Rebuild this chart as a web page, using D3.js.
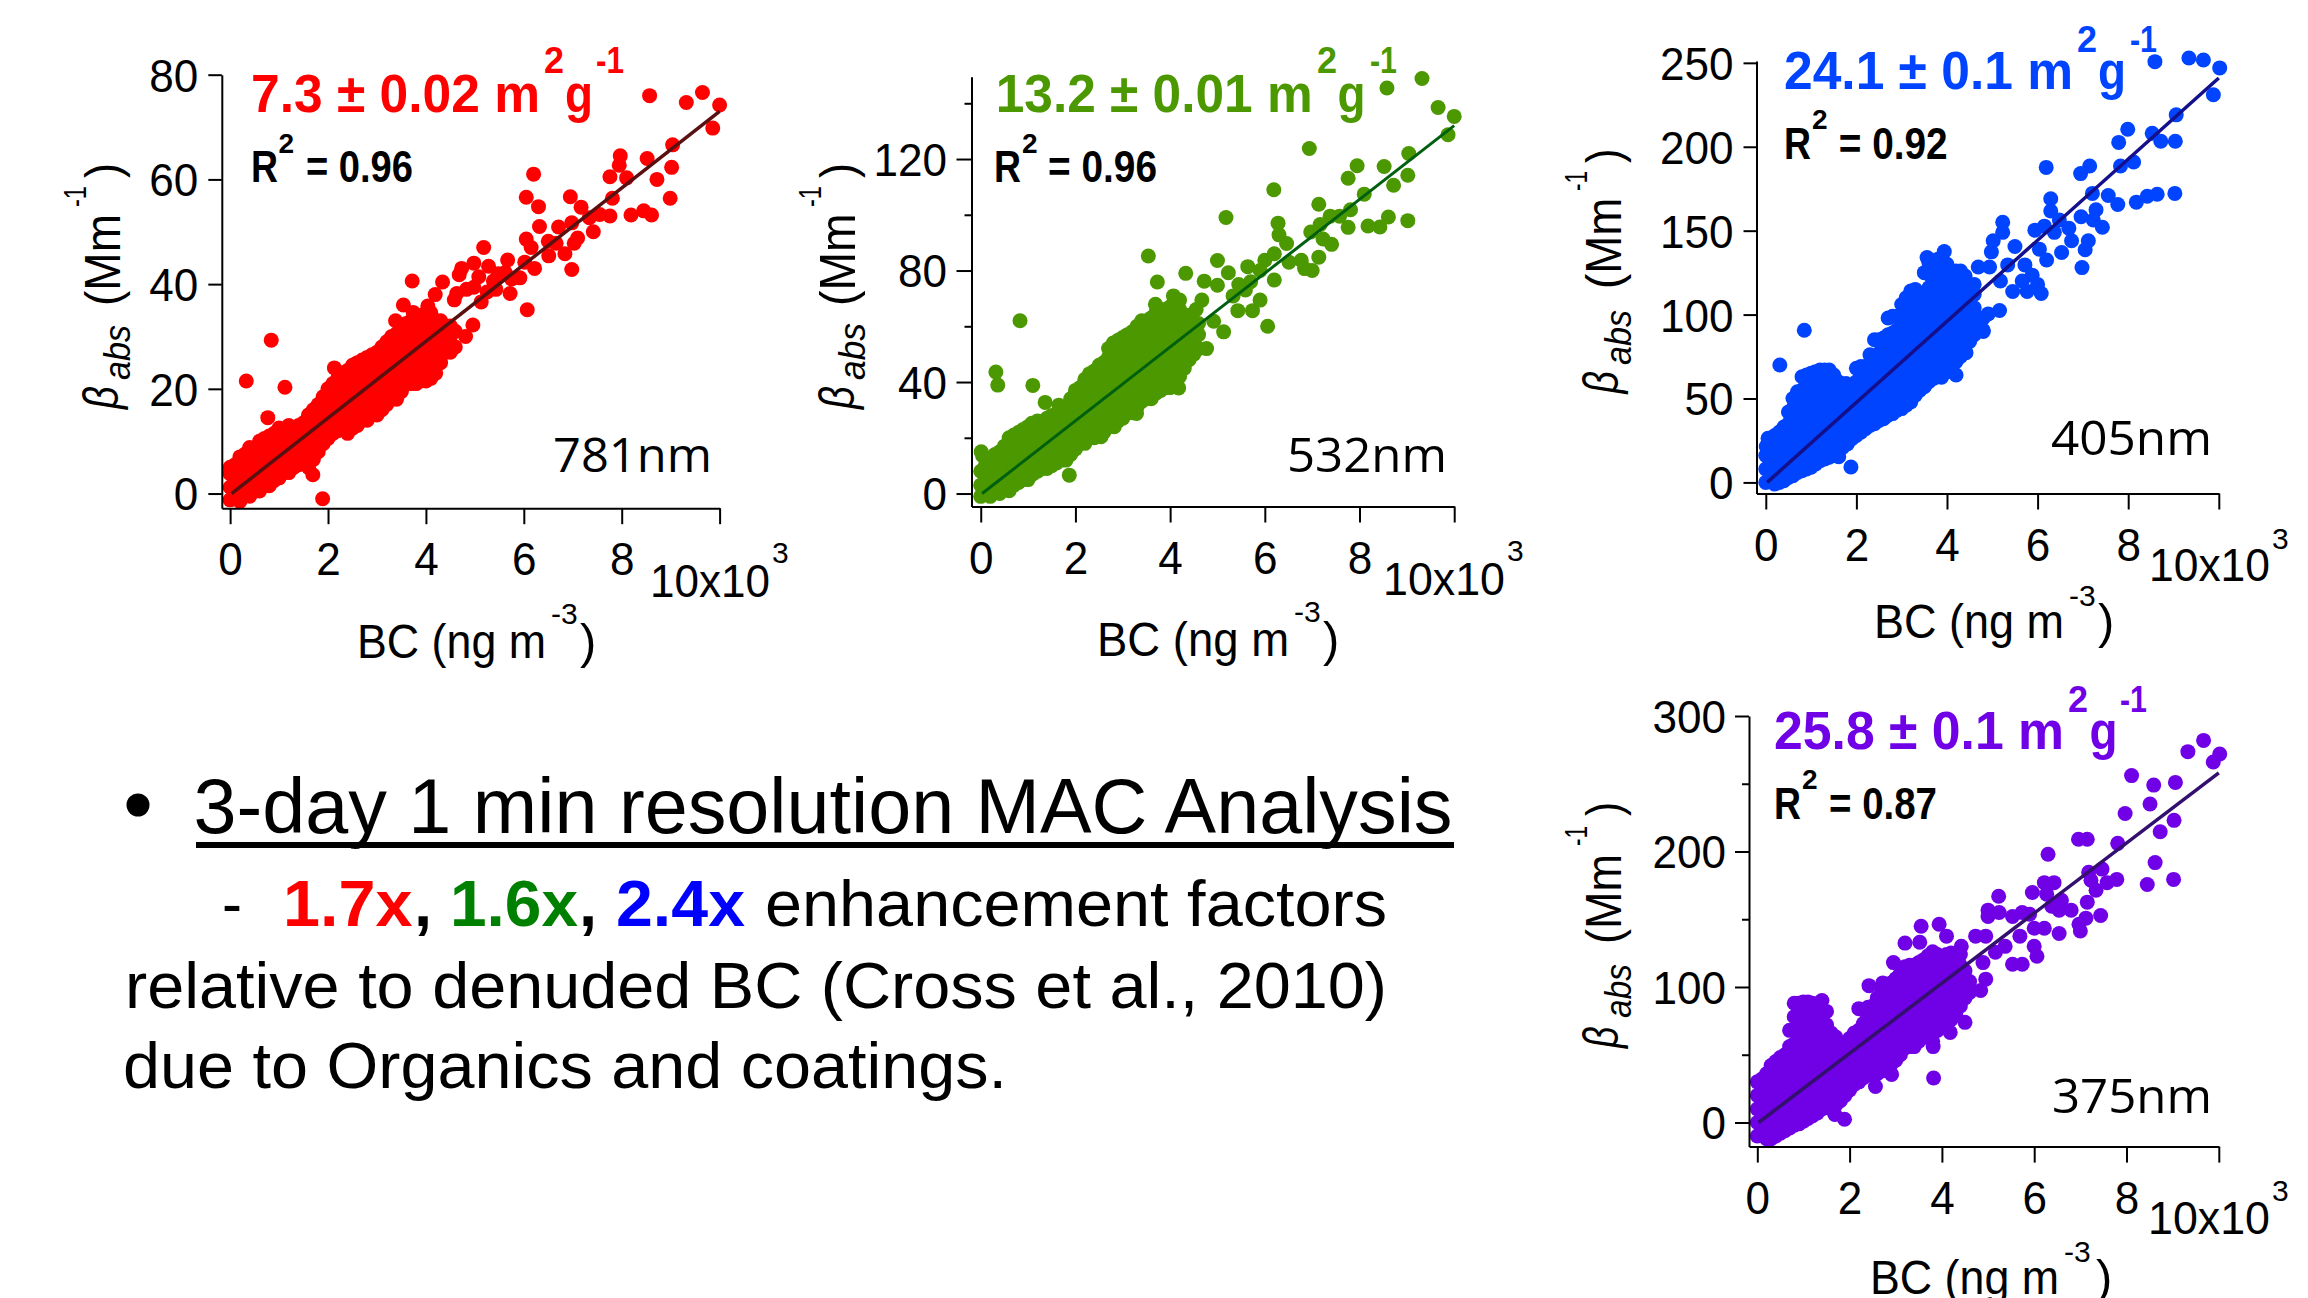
<!DOCTYPE html>
<html>
<head>
<meta charset="utf-8">
<script src="https://cdnjs.cloudflare.com/ajax/libs/d3/7.8.5/d3.min.js"></script>
<style>
html, body { margin: 0; padding: 0; background: #fff; }
svg { display: block; }
text { font-family: "Liberation Sans", Arial, sans-serif; fill: #000; }
</style>
</head>
<body>
<div id="chart"></div>
<script>
// Dense part of each cloud: one row per BC value, [x, y, y, y...]
var dense781 = [
  [0.0,-1.2,1.2,3.8,5],[0.1,0,2.5,5.5],[0.2,-1.5,1,3.5,6,7],[0.4,-0.5,2,4.5,7,8.8],[0.6,0.5,3,5.5,8,10],
  [0.8,1.5,4,6.5,9,11],[1.0,3,5.5,8,10.5,12.5],[1.2,4,6.5,9,11.5,13],[1.4,5.5,8,10.5,13],[1.6,5,7.5,10,12.5,15],
  [1.8,8,10.5,13,15.5,17],[2.0,10.5,13,15.5,18,20],[2.2,12,14.5,17,19.5,22],[2.4,11.5,14,16.5,19,21.5,23.5],
  [2.6,13,15.5,18,20.5,23,25],[2.8,14,16.5,19,21.5,24,26],[3.0,15,17.5,20,22.5,25,27],[3.2,17,19.5,22,24.5,27,29],
  [3.4,18,20.5,23,25.5,28,30.5],[3.6,21,23.5,26,28.5,31,32.5],[3.8,21,23.5,26,28.5,31,33],[4.0,21.5,24,26.5,29,31.5,34.5],
  [4.2,23,25.5,28,30.5,33],[4.4,27,29.5,32],[4.6,28,31],
  [0.3,0,2.5,5,7.5],[0.5,1,3.5,6,8.5],[0.7,1.5,4,6.5,9,10.5],[0.9,2.5,5,7.5,10,11.5],[1.1,4,6.5,9,11.5],[1.3,5,7.5,10,12.5],
  [1.5,6,8.5,11,13.5],[1.7,6.5,9,11.5,14,16],[1.9,9.5,12,14.5,17,18.5],[2.1,11.5,14,16.5,19,21],[2.3,13,15.5,18,20.5,23],
  [2.5,12.5,15,17.5,20,22.5,24.5],[2.7,14,16.5,19,21.5,24,25.5],[2.9,15,17.5,20,22.5,25,26.5],[3.1,16,18.5,21,23.5,26,28],
  [3.3,18,20.5,23,25.5,28,30],[3.5,19.5,22,24.5,27,29.5,32],[3.7,21,23.5,26,28.5,31,33],[3.9,21.5,24,26.5,29,31.5,34],
  [4.1,22,24.5,27,29.5,32,34.5],[4.3,25,27.5,30,33],[4.5,27,30,32]
];
var dense532 = [
  [0.0,-1,3,8],[0.1,1,6,10],[0.2,-1,4,9,12],[0.4,0,5,10,15],[0.6,1,6,11,16,20],[0.8,4,9,14,19,22],[1.0,5,10,15,20,24],
  [1.2,8,13,18,23,26],[1.4,9,14,19,24,27],[1.6,11,16,21,26,28],[1.8,12,17,22,27,31],[2.0,16,21,26,31,37],
  [2.2,18,23,28,33,38,41],[2.4,20,25,30,35,40,44],[2.6,22,27,32,37,42,47],[2.8,25,30,35,40,45,50,54],
  [3.0,27,32,37,42,47,52,56],[3.2,29,34,39,44,49,54,58],[3.4,33,38,43,48,53,58,62],[3.6,34,39,44,49,54,59,63],
  [3.8,37,42,47,52,57,62,66],[4.0,38,43,48,53,58,63,67],[4.2,42,47,52,57,62,66],[4.4,48,53,58,64],[4.6,52,57,61],
  [0.3,1,6,11,14],[0.5,2,7,12,17],[0.7,3,8,13,18,21],[0.9,5,10,15,20,23],[1.1,7,12,17,22,25],[1.3,9,14,19,24],[1.5,10,15,20,25,28],
  [1.7,12,17,22,27,29],[1.9,14,19,24,29,34],[2.1,18,23,28,33,38],[2.3,20,25,30,35,40,43],[2.5,21,26,31,36,41,46],
  [2.7,24,29,34,39,44,49,52],[2.9,26,31,36,41,46,51,55],[3.1,29,34,39,44,49,54,57],[3.3,31,36,41,46,51,56,60],
  [3.5,34,39,44,49,54,59,62],[3.7,36,41,46,51,56,61,65],[3.9,38,43,48,53,58,63,66],[4.1,41,46,51,56,61,66],[4.3,45,50,55,60,64],[4.5,50,55,60]
];
var dense405 = [
  [0.0,0,8,16],[0.1,3,11,19],[0.2,-1,7,15,23,28],[0.4,1,9,17,25,33],[0.6,4,12,20,28,36,44,50],[0.8,7,15,23,31,39,47,55,63],
  [1.0,9,17,25,33,41,49,57,65],[1.2,13,21,29,37,45,53,61,67],[1.4,15,23,31,39,47,55,63,67],[1.6,18,26,34,42,50,60],
  [1.8,23,31,39,47,55],[2.0,28,36,44,52,60,68],[2.2,32,40,48,56,64,69],[2.4,35,43,51,59,67,75,85],[2.6,38,46,54,62,70,78,86],
  [2.8,41,49,57,65,73,81,89,99],[3.0,44,52,60,68,76,84,92,100,106],[3.2,48,56,64,72,80,88,96,104,114],
  [3.4,55,63,71,79,87,95,103,111],[3.6,60,68,76,84,92,100,108,116,124,131],[3.8,63,71,79,87,95,103,111,119,127,133],
  [4.0,66,74,82,90,98,106,114,122,130],[4.2,72,80,88,96,104,112,120,126],[4.4,78,86,94,102,110,118,123],[4.6,88,96,104,112],[4.8,90,98],
  [0.3,0,8,16,24,30],[0.5,3,11,19,27,35,42],[0.7,6,14,22,30,38,46,54],[0.9,8,16,24,32,40,48,56,64],[1.1,11,19,27,35,43,51,59,66],
  [1.3,14,22,30,38,46,54,62,67],[1.5,16,24,32,40,48,56,64],[1.7,21,29,37,45,53,58],[1.9,26,34,42,50,58],[2.1,30,38,46,54,62,69],
  [2.3,34,42,50,58,66,76],[2.5,37,45,53,61,69,77,85],[2.7,40,48,56,64,72,80,88,98],[2.9,43,51,59,67,75,83,91,99],
  [3.1,46,54,62,70,78,86,94,102,110],[3.3,52,60,68,76,84,92,100,108,115],[3.5,57,65,73,81,89,97,105,113,125],
  [3.7,62,70,78,86,94,102,110,118,126,132],[3.9,65,73,81,89,97,105,113,121,129],[4.1,69,77,85,93,101,109,117,125],
  [4.3,75,83,91,99,107,115,123],[4.5,84,92,100,108,116]
];
var dense375 = [
  [0.0,-10,0,10,20,30],[0.1,-5,5,15,25,32],[0.2,-12,-2,8,18,28,36],[0.4,-10,0,10,20,30,40,45],[0.6,-6,4,14,24,34,44,50],
  [0.8,-2,8,18,28,38,48,58,68,78,88],[1.0,1,11,21,31,41,51,61,71,81,89],[1.2,5,15,25,35,45,55,65,75,85,88],
  [1.4,10,20,30,40,50,60,70,80,90],[1.6,10,20,30,40,50,60,66],[1.8,16,26,36,46,56],[2.0,24,34,44,54,62],[2.2,30,40,50,60,68,84],
  [2.4,35,45,55,65,75,85],[2.6,36,46,56,66,76,86,92],[2.8,40,50,60,70,80,90,100],[3.0,46,56,66,76,86,96,106],
  [3.2,55,65,75,85,95,105,115],[3.4,56,66,76,86,96,106,116],[3.6,65,75,85,95,105,115,120],[3.8,60,70,80,90,100,110,120,126],
  [4.0,72,82,92,102,112,122],[4.2,76,86,96,106,116,125],[4.4,86,96,106,116,124],[4.6,96,104],
  [0.3,-12,-2,8,18,28,38,42],[0.5,-8,2,12,22,32,42,48],[0.7,-4,6,16,26,36,46,56,68],[0.9,-1,9,19,29,39,49,59,69,79,88],
  [1.1,3,13,23,33,43,53,63,73,83,89],[1.3,7,17,27,37,47,57,67,77,87],[1.5,12,22,32,42,52,62,72,82],[1.7,13,23,33,43,53,63],
  [1.9,20,30,40,50,58],[2.1,28,38,48,58,66],[2.3,33,43,53,63,73,83],[2.5,36,46,56,66,76,86],[2.7,38,48,58,68,78,88,98],
  [2.9,43,53,63,73,83,93,103],[3.1,50,60,70,80,90,100,110],[3.3,56,66,76,86,96,106,116],[3.5,60,70,80,90,100,110,118],
  [3.7,63,73,83,93,103,113,123],[3.9,68,78,88,98,108,118,124],[4.1,74,84,94,104,114,124],[4.3,80,90,100,110,120],[4.5,92,102,112]
];

// Loose points, [x, y]
var sparse781 = [
  [8.57,76],[9.32,74.7],[9.65,76.6],[10,74.2],[9.86,69.8],[9.04,66.6],[9.02,62.3],[8.72,60],[8.99,56.4],[8.52,64],[7.97,64.5],
  [7.95,62.7],[8.1,60.3],[7.76,60.5],[7.81,56.4],[6.2,61],[6.05,56.6],[6.3,54.8],[6.95,56.7],[7.17,54.7],[8.45,54],[8.19,53.2],
  [8.61,53.2],[7.76,53],[7.55,53.3],[7.34,52.7],[7.42,50],[7.1,48.8],[7.03,47.8],[6.84,45.8],[6.98,42.8],[6.98,51.7],[6.71,50.9],
  [6.32,51],[6.05,48.6],[6.15,47],[6.5,48.2],[6.51,45.4],[6.66,47.8],[6.22,43],[5.92,41.2],[6.07,35.1],[6.02,44.2],[5.67,44.6],
  [5.18,47],[5.62,42.2],[5.72,38.2],[5.43,39],[5.13,36.6],[4.96,32.2],[4.81,30],[3.72,40.6],[4.34,40.4],[4.19,38],[3.54,36],
  [3.38,33],[3.74,34.6],[4.04,35.8],[0.84,29.3],[0.33,21.5],[1.12,20.3],[0.77,14.5],[2.13,24],[1.89,-1],[1.69,3.6],[4.73,43],
  [4.98,44],[5.28,43.4],[5.48,42],[4.68,41.8],[4.63,38.2],[4.83,39],[4.98,39.4],[5.08,41.4],[5.38,40.6],[4.58,37],[5.75,41],[5.25,38.5]
];
var sparse532 = [
  [9.32,148.9],[8.58,145.5],[9.66,138.5],[10,135.3],[9.87,128.7],[6.94,123.8],[9.04,122],[9.02,114.2],[8.52,117.3],[7.95,117.6],
  [7.76,113.1],[8.72,110.6],[8.1,107.4],[6.19,109],[7.14,103.8],[7.81,101.8],[5.18,99],[9.02,97.9],[8.61,99.2],[8.43,95.6],[8.18,96],
  [7.76,95.5],[7.58,99.5],[7.38,99.5],[7.17,96.5],[6.28,97],[6.97,93.8],[7.23,91.3],[7.41,89.4],[6.3,92.8],[6.46,89.7],[7.14,84.8],
  [6.51,83],[6.77,83.7],[7,80],[6.84,80.7],[6,83.7],[6.2,86],[3.54,85.2],[5,83.6],[4.33,79],[3.73,75.9],[4.72,76.2],[5,74.7],[5.23,79.2],
  [5.64,81.4],[6.2,76.6],[4.07,70.9],[4.2,69.4],[3.69,67.9],[4.67,69.4],[1.87,6.6],[6.06,60],[5.43,65.6],[5.74,65.6],[5.9,69.4],[5.59,73],
  [5.33,70.9],[5.13,58],[4.92,61.8],[4.77,52],[0.83,62],[0.32,43.6],[0.36,38.9],[1.1,38.8],[1.36,32.7],[1.65,31.7],[0.04,13.6],[0.01,15],
  [4.18,37.9],[3.29,28.7],[2.54,20.4],[2.82,24],[1.08,25.2],[5.45,75],[5.7,76],[5.9,80],[4.55,66]
];
var sparse405 = [
  [8.59,250.7],[9.34,252.9],[9.66,251.7],[10.02,247],[9.88,231],[9.06,219],[9.04,203.3],[8.72,203.3],[8.53,208],[7.99,210.4],[7.79,202.6],
  [8.12,190.9],[7.83,188.5],[6.19,187.7],[7.15,188.5],[6.95,184],[9.03,172.2],[8.64,171.7],[8.42,170.5],[8.18,167],[7.77,165.6],[7.56,171],
  [7.21,172.2],[6.29,169],[6.29,161.7],[7.29,162.5],[6.96,158.3],[7.23,156.4],[7.43,152],[5.23,155],[5.23,149],[5.02,144],[4.98,137.4],
  [5.5,140.6],[5.94,150.3],[6.15,152.7],[6.48,156.4],[6.37,149],[6.69,151.5],[6.75,144],[6.53,137],[7.12,144],[7.05,138.6],[6.98,128],
  [6.04,139],[6.2,132.5],[6.08,112.6],[3.94,137.6],[3.56,134],[4.69,128.4],[4.94,128.4],[5.34,129.6],[5.72,129.6],[5.88,123.5],[5.18,120],
  [5.45,113.8],[5.77,113.8],[5.66,120],[6,118],[5.16,102.4],[4.91,100.4],[4.8,90.7],[4.53,95.6],[4.42,77.3],[4.2,64],[3.88,62.7],[0.85,90.7],
  [0.31,70],[0.05,26.3],[0.01,21.4],[1.88,9.2],[1.61,15.3],[1.77,59],[4.6,118],[4.3,126]
];
var sparse375 = [
  [9.67,282],[9.33,273.7],[10.02,272],[9.88,266],[8.11,256],[9.06,251],[8.59,249],[8.51,235],[7.97,228],[9.03,223],[8.73,214.6],[7.81,206],
  [6.96,209],[7.15,209],[6.3,198],[8.62,191.8],[8.45,175.6],[9.02,179.4],[7.47,187],[7.18,184.7],[7.23,178.8],[7.79,179.4],[7.58,177],[7.34,171.4],
  [7.15,162.6],[6.22,177],[6.43,177],[5.96,169.7],[6.27,168.5],[5.23,167],[6.59,164],[6.8,156.7],[6.54,156.7],[6.38,159.6],[5,156.7],[5,152],
  [5.24,155],[5.53,152],[5.74,155],[5.9,153.7],[7.44,152.8],[7.12,150.8],[6.97,146.3],[7,141.3],[6.54,139.5],[6.22,143.4],[6,143.4],[3.94,146.3],
  [3.55,144.8],[3.52,133],[3.2,132.4],[4.73,137.5],[4.95,137.5],[4.42,130],[4.1,137.5],[5.16,125.6],[5.53,116.8],[5.74,116.8],[6.06,122.7],
  [6,130],[5.69,137.5],[5.37,130],[4.89,118],[4.95,105.8],[4.84,97.5],[4.63,97.5],[2.42,101],[4.5,73.9],[4.18,66.5],[3.81,56],[3.82,32.8],
  [2.95,118],[2.72,103],[2.91,35.5],[2.56,26.6],[1.89,2.4],[1.68,5.9],[1.13,4.4],[0.81,-1.5]
];

// Fit line ends, [x, y]
var fit781 = [[0.03,0],[10,73]];
var fit532 = [[0.03,0],[10,132]];
var fit405 = [[0.03,0],[10,241]];
var fit375 = [[0.03,0],[10,258]];

var xTicks = [0, 2, 4, 6, 8, 10];
var xTickLabels = ["0", "2", "4", "6", "8", ""];
var yTicks781 = [0, 20, 40, 60, 80];
var yTicks532 = [0, 40, 80, 120];
var yMinor532 = [20, 60, 100, 140];
var yTicks405 = [0, 50, 100, 150, 200, 250];
var yTicks375 = [0, 100, 200, 300];
var yMinor375 = [50, 150, 250];

var titles = ["7.3 ± 0.02 m", "13.2 ± 0.01 m", "24.1 ± 0.1 m", "25.8 ± 0.1 m"];
var rSquared = ["= 0.96", "= 0.96", "= 0.92", "= 0.87"];
var wavelengths = ["781nm", "532nm", "405nm", "375nm"];

var bulletTitle = "3-day 1 min resolution MAC Analysis";
var factorTexts = ["1.7x", "1.6x", "2.4x"];
var bodyLine2 = "enhancement factors";
var bodyLine3 = "relative to denuded BC (Cross et al., 2010)";
var bodyLine4 = "due to Organics and coatings.";

var w = 2308;
var h = 1298;

var svg = d3.select("#chart")
  .append("svg")
  .attr("width", w)
  .attr("height", h);

// text with a forced width, the picture is squeezed a bit so natural widths dont fit
function put(x, y, str, size, opts) {
  opts = opts || {};
  var t = svg.append("text")
    .attr("x", x)
    .attr("y", y)
    .attr("font-size", size)
    .attr("font-weight", opts.bold ? "bold" : null)
    .attr("font-style", opts.italic ? "italic" : null)
    .style("font-family", opts.family || null)
    .style("fill", opts.fill || null)
    .text(str);
  if (opts.len) t.attr("textLength", opts.len).attr("lengthAdjust", "spacingAndGlyphs");
  return t;
}

// y label piece running upward: starts at yBottom, ends at yTop
function putUp(xBase, yBottom, yTop, str, size, opts) {
  opts = opts || {};
  svg.append("text")
    .attr("transform", "translate(" + xBase + "," + yBottom + ") rotate(-90)")
    .attr("font-size", size)
    .attr("font-style", opts.italic ? "italic" : null)
    .attr("textLength", yBottom - yTop)
    .attr("lengthAdjust", "spacingAndGlyphs")
    .text(str);
}

var panels = [
  { dense: dense781, sparse: sparse781, fit: fit781, color: "#ff0000", lineColor: "#5a1010", yTicks: yTicks781, yMinor: [],
    xDom: [-0.17, 10], yDom: [-2.8, 80], xRange: [221.8, 719.6], yRange: [508.2, 74.7], lw: 3.5, tickY: 13.5, pad: 10,
    title: [251, 289, 112], g: [565, 28], s2: [544, 72.6], s1: [596, 28, 72.6], r: [251, 182], r2: [278.5, 152.6], eq: [306, 107],
    wl: [553, 159, 472.4], mult: [650, 120, 596.6], s3: [772, 563], xl: [357, 189, 657.6], xe: [551, 624], xp: 580,
    yl: { beta: [117.5, 409, 386], abs: [129.7, 380, 325], mm: [120, 306, 214], e: [86, 207, 186], p: [120, 178, 163] } },
  { dense: dense532, sparse: sparse532, fit: fit532, color: "#4b9800", lineColor: "#006010", yTicks: yTicks532, yMinor: yMinor532,
    xDom: [-0.195, 10], yDom: [-4.65, 149.5], xRange: [971.5, 1454.2], yRange: [506.5, 76.8], lw: 3, tickY: 15, pad: 9.5,
    title: [995.7, 317, 112], g: [1337.5, 28], s2: [1317, 72.6], s1: [1370, 27, 72.6], r: [994, 182], r2: [1022, 152.6], eq: [1048, 109],
    wl: [1287, 160, 472.4], mult: [1383, 122, 594.5], s3: [1507, 561], xl: [1097, 192, 655.5], xe: [1294, 622], xp: 1323,
    yl: { beta: [853.7, 409, 386], abs: [864.8, 380, 323], mm: [855, 306, 213.6], e: [821, 207, 186], p: [855, 178, 163] } },
  { dense: dense405, sparse: sparse405, fit: fit405, color: "#0044ff", lineColor: "#14108c", yTicks: yTicks405, yMinor: [],
    xDom: [-0.205, 10], yDom: [-6.6, 251.1], xRange: [1756.5, 2218.8], yRange: [493.5, 61], lw: 3.5, tickY: 13, pad: 10,
    title: [1784, 289, 89.4], g: [2098, 28], s2: [2077, 51.8], s1: [2130, 27, 51.8], r: [1784, 158.8], r2: [1812, 129], eq: [1838.7, 109],
    wl: [2051, 161, 454.7], mult: [2149, 121, 581], s3: [2272, 548.6], xl: [1874, 190, 638], xe: [2069, 605.7], xp: 2098,
    yl: { beta: [1618, 393.5, 371], abs: [1630.6, 365, 310], mm: [1621, 289, 197.5], e: [1586.5, 191, 171], p: [1621, 163, 148.6] } },
  { dense: dense375, sparse: sparse375, fit: fit375, color: "#7000e6", lineColor: "#33106e", yTicks: yTicks375, yMinor: yMinor375,
    xDom: [-0.18, 10], yDom: [-17.8, 300], xRange: [1749, 2218.8], yRange: [1146.6, 716], lw: 3.5, tickY: 14, pad: 9,
    title: [1774, 290, 749.3], g: [2089.5, 28], s2: [2068, 712], s1: [2120, 27, 712], r: [1774, 819], r2: [1802, 789], eq: [1829, 108],
    wl: [2052, 160, 1112.5], mult: [2148, 122, 1233.9], s3: [2272, 1200.6], xl: [1870, 189, 1294], xe: [2064, 1262], xp: 2096,
    yl: { beta: [1618, 1048, 1026.4], abs: [1630.6, 1018, 964], mm: [1621, 944, 854], e: [1586.5, 846, 826], p: [1621, 816, 802] } }
];

panels.forEach(function(p, i) {
  var x = d3.scaleLinear().domain(p.xDom).range(p.xRange);
  var y = d3.scaleLinear().domain(p.yDom).range(p.yRange);

  // flatten the rows into points
  var points = [];
  p.dense.forEach(function(row) {
    row.slice(1).forEach(function(v) { points.push([row[0], v]); });
  });
  points = points.concat(p.sparse);

  svg.append("g").selectAll("circle")
    .data(points)
    .enter()
    .append("circle")
    .attr("cx", function(d) { return x(d[0]); })
    .attr("cy", function(d) { return y(d[1]); })
    .attr("r", 7.5)
    .attr("fill", p.color);

  svg.append("path")
    .datum(p.fit)
    .attr("d", d3.line().x(function(d) { return x(d[0]); }).y(function(d) { return y(d[1]); }))
    .attr("fill", "none")
    .attr("stroke", p.lineColor)
    .attr("stroke-width", p.lw);

  // axes
  var xAxis = svg.append("g")
    .attr("transform", "translate(0," + p.yRange[0] + ")")
    .call(d3.axisBottom(x).tickValues(xTicks).tickSize(16).tickSizeOuter(0)
      .tickFormat(function(d, j) { return xTickLabels[j]; }));
  xAxis.selectAll("text").attr("y", 67).attr("dy", 0).attr("font-size", 47)
    .attr("textLength", 24.5).attr("lengthAdjust", "spacingAndGlyphs");

  var yAxis = svg.append("g")
    .attr("transform", "translate(" + p.xRange[0] + ",0)")
    .call(d3.axisLeft(y).tickValues(p.yTicks).tickSize(p.tickY).tickSizeOuter(0).tickPadding(p.pad));
  yAxis.selectAll("text").attr("font-size", 47).attr("dy", "0.35em")
    .attr("textLength", function(d) { return String(d).length * 24.5; })
    .attr("lengthAdjust", "spacingAndGlyphs");

  svg.append("g")
    .attr("transform", "translate(" + p.xRange[0] + ",0)")
    .call(d3.axisLeft(y).tickValues(p.yMinor).tickSize(7).tickSizeOuter(0).tickFormat(""))
    .select(".domain").remove();

  svg.selectAll(".domain, .tick line").attr("stroke", "#000").attr("stroke-width", 2);

  // big slope label
  put(p.title[0], p.title[2], titles[i], 54, { bold: true, fill: p.color, len: p.title[1] });
  put(p.g[0], p.title[2], "g", 54, { bold: true, fill: p.color, len: p.g[1] });
  put(p.s2[0], p.s2[1], "2", 36, { bold: true, fill: p.color });
  put(p.s1[0], p.s1[2], "-1", 36, { bold: true, fill: p.color, len: p.s1[1] });

  put(p.r[0], p.r[1], "R", 44, { bold: true, len: 27 });
  put(p.r2[0], p.r2[1], "2", 28, { bold: true });
  put(p.eq[0], p.r[1], rSquared[i], 44, { bold: true, len: p.eq[1] });

  put(p.wl[0], p.wl[2], wavelengths[i], 47, { family: "'Open Sans'", len: p.wl[1] });

  put(p.mult[0], p.mult[2], "10x10", 46, { len: p.mult[1] });
  put(p.s3[0], p.s3[1], "3", 30);

  put(p.xl[0], p.xl[2], "BC (ng m", 49, { len: p.xl[1] });
  put(p.xe[0], p.xe[1], "-3", 30);
  put(p.xp, p.xl[2], ")", 49);

  putUp(p.yl.beta[0], p.yl.beta[1], p.yl.beta[2], "β", 50, { italic: true });
  putUp(p.yl.abs[0], p.yl.abs[1], p.yl.abs[2], "abs", 37, { italic: true });
  putUp(p.yl.mm[0], p.yl.mm[1], p.yl.mm[2], "(Mm", 50);
  putUp(p.yl.e[0], p.yl.e[1], p.yl.e[2], "-1", 32);
  putUp(p.yl.p[0], p.yl.p[1], p.yl.p[2], ")", 50);
});

// text block
svg.append("circle").attr("cx", 138).attr("cy", 805).attr("r", 11.5).attr("fill", "#000");
put(193.5, 833, bulletTitle, 77, { len: 1259 });
svg.append("rect").attr("x", 196).attr("y", 842).attr("width", 1258).attr("height", 6).attr("fill", "#000");

put(222, 926, "-", 65, { len: 20 });
put(283, 926, factorTexts[0], 65, { bold: true, fill: "#ff0000", len: 129.5 });
put(414, 926, ",", 65, { bold: true });
put(450, 926, factorTexts[1], 65, { bold: true, fill: "#008000", len: 128 });
put(579, 926, ",", 65, { bold: true });
put(616, 926, factorTexts[2], 65, { bold: true, fill: "#0000ff", len: 129 });
put(765, 926, bodyLine2, 65, { len: 622 });
put(125, 1008, bodyLine3, 65, { len: 1262 });
put(123, 1088, bodyLine4, 65, { len: 884 });
</script>
</body>
</html>
